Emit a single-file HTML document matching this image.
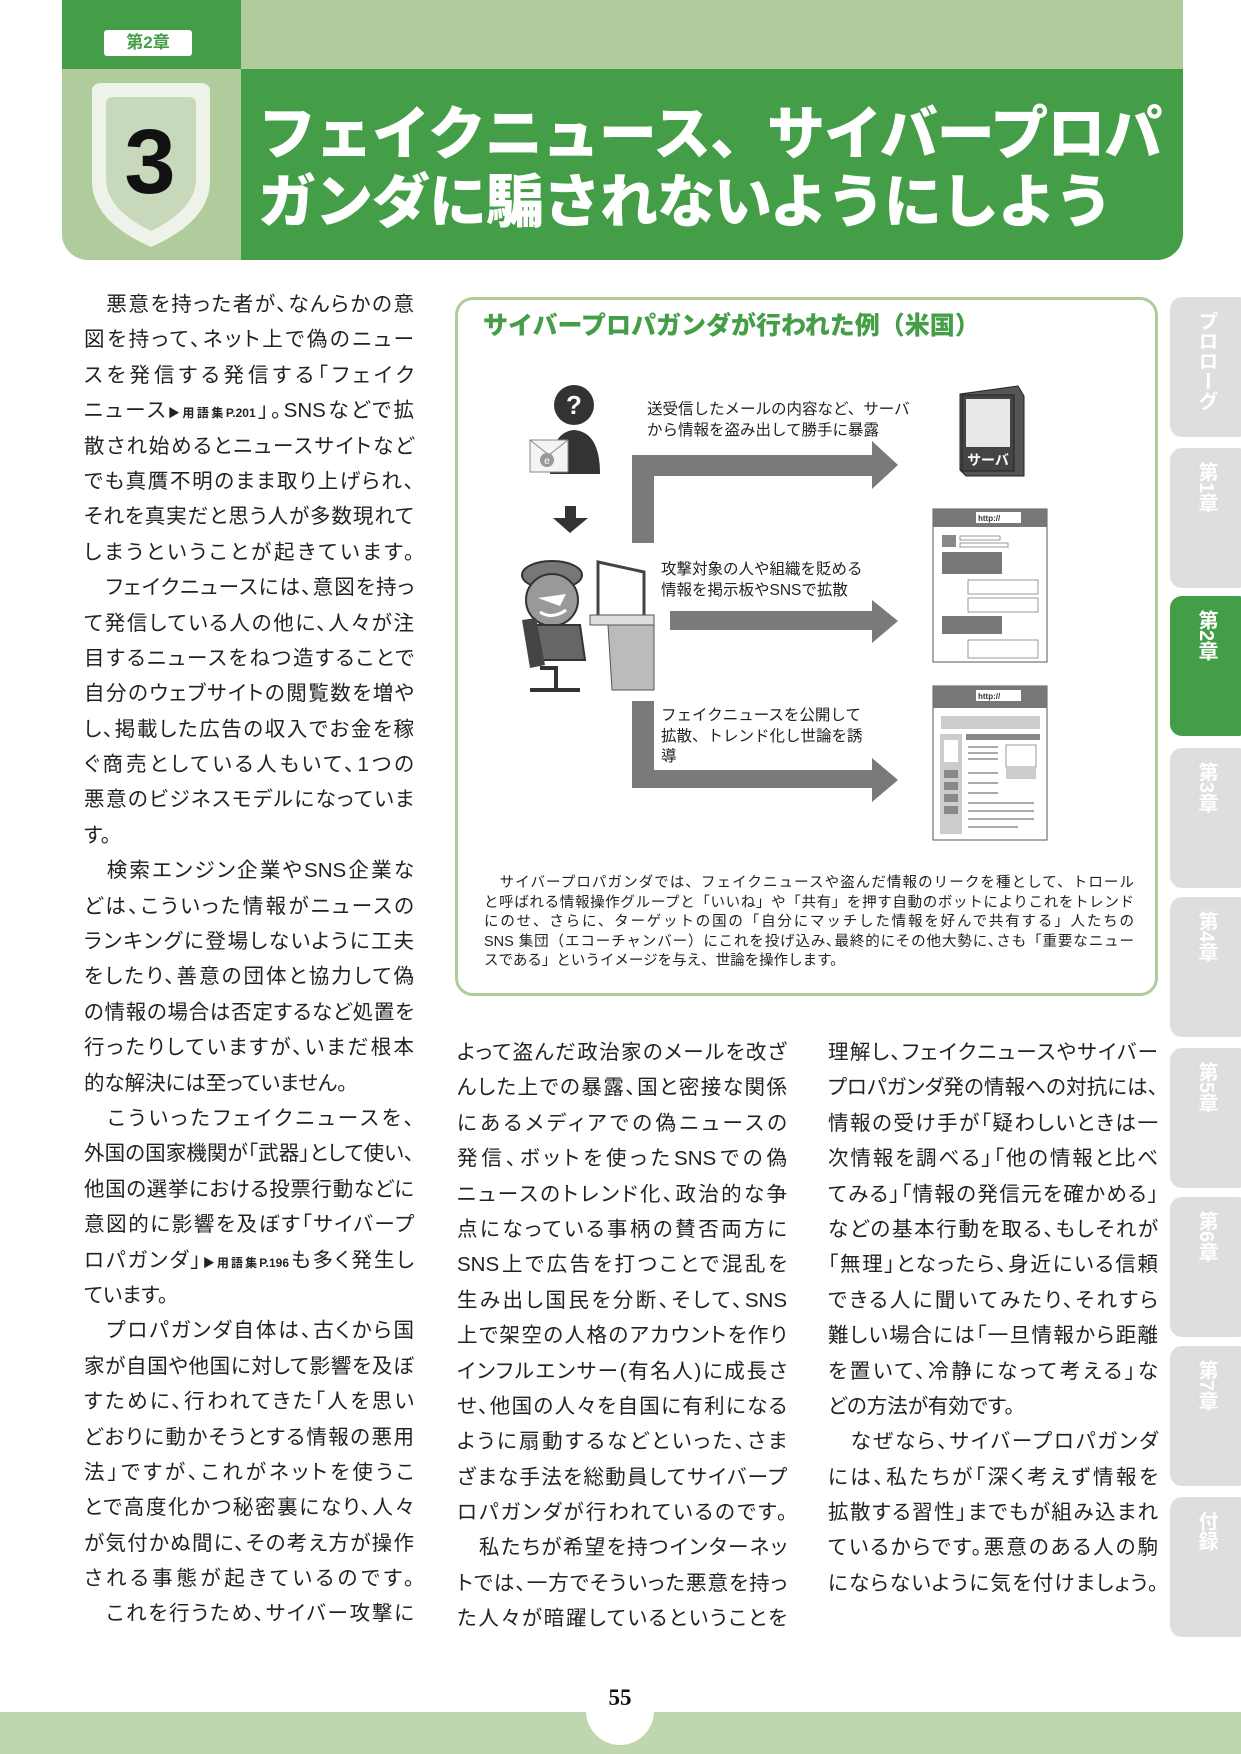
<!DOCTYPE html>
<html><head><meta charset="utf-8">
<style>
*{margin:0;padding:0;box-sizing:border-box}
body{width:1241px;height:1754px;position:relative;background:#fff;overflow:hidden;font-family:"Liberation Sans","Noto Sans CJK JP",sans-serif;color:#222}
.abs{position:absolute}
.col div{height:35.4px;line-height:35.4px;font-size:20.5px;text-align:justify;text-align-last:justify;white-space:nowrap;overflow:visible;font-feature-settings:"palt"}
.col div.l{text-align-last:left}
.ref{font-size:12px;font-weight:bold;letter-spacing:0}
.tab{position:absolute;left:1170px;width:80px;height:140px;background:#dedede;border-radius:12px;color:#fff;font-weight:bold;font-size:20px;line-height:24px;text-align:center;padding-top:14px;padding-right:8px;writing-mode:vertical-rl;display:flex;align-items:center;justify-content:flex-start}
.dt{font-size:15.5px;line-height:20.5px;color:#222}
.cap div{font-size:14.5px;line-height:19.6px;height:19.6px;text-align:justify;text-align-last:justify;white-space:nowrap}
</style></head><body>

<!-- header -->
<div class="abs" style="left:62px;top:0;width:1121px;height:69px;background:#b0cc9c"></div>
<div class="abs" style="left:62px;top:0;width:179px;height:69px;background:#449e48"></div>
<div class="abs" style="left:104px;top:30px;width:88px;height:26px;background:#fff;border-radius:3px;color:#449e48;font-weight:bold;font-size:17px;line-height:26px;text-align:center">第2章</div>
<div class="abs" style="left:62px;top:69px;width:200px;height:191px;background:#b0cc9c;border-radius:0 0 0 26px"></div>
<div class="abs" style="left:241px;top:69px;width:942px;height:191px;background:#449e48;border-radius:0 0 26px 0"></div>
<svg class="abs" style="left:84px;top:81px" width="134" height="168" viewBox="0 0 134 168">
<path d="M8 10 Q8 2 18 2 L116 2 Q126 2 126 10 L126 100 Q126 140 67 166 Q8 140 8 100 Z" fill="#eef3ea"/>
<path d="M22 22 Q22 16 30 16 L104 16 Q112 16 112 22 L112 98 Q112 128 67 150 Q22 128 22 98 Z" fill="#c8d9bb"/>
</svg>
<div class="abs" style="left:110px;top:112px;width:80px;text-align:center;font-size:92px;font-weight:900;line-height:100px;color:#111">3</div>
<div class="abs" style="left:258px;top:101px;color:#fff;font-weight:900;font-size:58px;line-height:68px;letter-spacing:-1px;white-space:nowrap">フェイクニュース、サイバープロパ<br>ガンダに騙されないようにしよう</div>

<!-- col1 -->
<div class="abs col" style="left:84px;top:287px;width:330px">
<div>　悪意を持った者が、なんらかの意</div>
<div>図を持って、ネット上で偽のニュー</div>
<div>スを発信する発信する「フェイク</div>
<div>ニュース<span class="ref">▶用語集P.201</span>」。SNSなどで拡</div>
<div>散され始めるとニュースサイトなど</div>
<div>でも真贋不明のまま取り上げられ、</div>
<div>それを真実だと思う人が多数現れて</div>
<div>しまうということが起きています。</div>
<div>　フェイクニュースには、意図を持っ</div>
<div>て発信している人の他に、人々が注</div>
<div>目するニュースをねつ造することで</div>
<div>自分のウェブサイトの閲覧数を増や</div>
<div>し、掲載した広告の収入でお金を稼</div>
<div>ぐ商売としている人もいて、1つの</div>
<div>悪意のビジネスモデルになっていま</div>
<div class="l">す。</div>
<div>　検索エンジン企業やSNS企業な</div>
<div>どは、こういった情報がニュースの</div>
<div>ランキングに登場しないように工夫</div>
<div>をしたり、善意の団体と協力して偽</div>
<div>の情報の場合は否定するなど処置を</div>
<div>行ったりしていますが、いまだ根本</div>
<div class="l">的な解決には至っていません。</div>
<div>　こういったフェイクニュースを、</div>
<div>外国の国家機関が「武器」として使い、</div>
<div>他国の選挙における投票行動などに</div>
<div>意図的に影響を及ぼす「サイバープ</div>
<div>ロパガンダ」<span class="ref">▶用語集P.196</span>も多く発生し</div>
<div class="l">ています。</div>
<div>　プロパガンダ自体は、古くから国</div>
<div>家が自国や他国に対して影響を及ぼ</div>
<div>すために、行われてきた「人を思い</div>
<div>どおりに動かそうとする情報の悪用</div>
<div>法」ですが、これがネットを使うこ</div>
<div>とで高度化かつ秘密裏になり、人々</div>
<div>が気付かぬ間に、その考え方が操作</div>
<div>される事態が起きているのです。</div>
<div>　これを行うため、サイバー攻撃に</div>
</div>

<!-- col2 -->
<div class="abs col" style="left:457px;top:1035px;width:330px">
<div>よって盗んだ政治家のメールを改ざ</div>
<div>んした上での暴露、国と密接な関係</div>
<div>にあるメディアでの偽ニュースの</div>
<div>発信、ボットを使ったSNSでの偽</div>
<div>ニュースのトレンド化、政治的な争</div>
<div>点になっている事柄の賛否両方に</div>
<div>SNS上で広告を打つことで混乱を</div>
<div>生み出し国民を分断、そして、SNS</div>
<div>上で架空の人格のアカウントを作り</div>
<div>インフルエンサー(有名人)に成長さ</div>
<div>せ、他国の人々を自国に有利になる</div>
<div>ように扇動するなどといった、さま</div>
<div>ざまな手法を総動員してサイバープ</div>
<div>ロパガンダが行われているのです。</div>
<div>　私たちが希望を持つインターネッ</div>
<div>トでは、一方でそういった悪意を持っ</div>
<div>た人々が暗躍しているということを</div>
</div>

<!-- col3 -->
<div class="abs col" style="left:828px;top:1035px;width:330px">
<div>理解し、フェイクニュースやサイバー</div>
<div>プロパガンダ発の情報への対抗には、</div>
<div>情報の受け手が「疑わしいときは一</div>
<div>次情報を調べる」「他の情報と比べ</div>
<div>てみる」「情報の発信元を確かめる」</div>
<div>などの基本行動を取る、もしそれが</div>
<div>「無理」となったら、身近にいる信頼</div>
<div>できる人に聞いてみたり、それすら</div>
<div>難しい場合には「一旦情報から距離</div>
<div>を置いて、冷静になって考える」な</div>
<div class="l">どの方法が有効です。</div>
<div>　なぜなら、サイバープロパガンダ</div>
<div>には、私たちが「深く考えず情報を</div>
<div>拡散する習性」までもが組み込まれ</div>
<div>ているからです。悪意のある人の駒</div>
<div>にならないように気を付けましょう。</div>
</div>

<!-- box -->
<div class="abs" style="left:455px;top:297px;width:703px;height:699px;border:3px solid #b0cc9c;border-radius:18px"></div>
<div class="abs" style="left:483px;top:309px;color:#449e48;font-weight:900;font-size:25px;line-height:34px;white-space:nowrap">サイバープロパガンダが行われた例（米国）</div>

<svg class="abs" style="left:455px;top:297px" width="703" height="560" viewBox="455 297 703 560">
<circle cx="574" cy="405" r="20" fill="#333"/>
<path d="M550 474 Q550 432 574 430 Q600 432 600 474 Z" fill="#333"/>
<text x="574" y="414" font-size="26" font-weight="bold" fill="#fff" text-anchor="middle" font-family="Liberation Sans">?</text>
<path d="M530 440 L568 440 L568 472 L530 472 Z" fill="#f4f4f4" stroke="#888"/>
<path d="M530 440 L549 455 L568 440" fill="none" stroke="#888"/>
<circle cx="547" cy="460" r="7" fill="#999"/><text x="547" y="464" font-size="10" fill="#fff" text-anchor="middle">e</text>
<path d="M565 506 L576 506 L576 518 L588 518 L570 533 L553 518 L565 518 Z" fill="#333"/>
<path d="M598 562 L644 572 L644 628 L598 620 Z" fill="#fff" stroke="#444" stroke-width="3"/>
<path d="M608 625 L654 625 L654 690 L612 690 Z" fill="#bbb" stroke="#555"/>
<path d="M590 615 L654 615 L654 625 L590 625 Z" fill="#ddd" stroke="#555"/>
<ellipse cx="552" cy="575" rx="30" ry="14" fill="#777" stroke="#333" stroke-width="2"/>
<circle cx="552" cy="600" r="26" fill="#999" stroke="#333" stroke-width="2"/>
<path d="M538 598 L566 594 L560 606 Z" fill="#fff"/>
<path d="M540 612 Q552 620 566 610" stroke="#fff" stroke-width="3" fill="none"/>
<path d="M532 625 L580 625 L585 660 L530 660 Z" fill="#666" stroke="#333" stroke-width="2"/>
<path d="M522 620 L536 618 L545 665 L530 668 Z" fill="#444"/>
<path d="M540 668 L556 668 L556 688 M530 690 L580 690" stroke="#333" stroke-width="4" fill="none"/>
<path d="M632 543 L632 455 L872 455 L872 441 L898 465 L872 489 L872 476 L654 476 L654 543 Z" fill="#7a7a7a"/>
<path d="M670 611 L872 611 L872 600 L898 621 L872 643 L872 630 L670 630 Z" fill="#7a7a7a"/>
<path d="M632 701 L654 701 L654 770 L872 770 L872 758 L898 780 L872 802 L872 788 L632 788 Z" fill="#7a7a7a"/>
<path d="M960 394 L1018 386 L1024 396 L1024 476 L966 476 L960 470 Z" fill="#555" stroke="#222"/>
<rect x="962" y="395" width="52" height="76" fill="#444" stroke="#222"/>
<rect x="966" y="399" width="44" height="48" fill="#e8e8e8"/>
<text x="988" y="465" font-size="14" font-weight="bold" fill="#fff" text-anchor="middle">サーバ</text>
<rect x="933" y="509" width="114" height="153" fill="#fff" stroke="#555"/>
<rect x="933" y="509" width="114" height="18" fill="#777"/>
<rect x="976" y="512" width="45" height="11" fill="#fff"/>
<text x="978" y="521" font-size="8" font-weight="bold" fill="#333">http://</text>
<rect x="942" y="535" width="14" height="12" fill="#888"/><rect x="960" y="536" width="40" height="4" fill="#fff" stroke="#999"/><rect x="960" y="543" width="48" height="4" fill="#fff" stroke="#999"/>
<rect x="942" y="552" width="60" height="22" fill="#777"/>
<rect x="968" y="580" width="70" height="14" fill="#fff" stroke="#999"/>
<rect x="968" y="598" width="70" height="14" fill="#fff" stroke="#999"/>
<rect x="942" y="616" width="60" height="18" fill="#777"/>
<rect x="968" y="640" width="70" height="18" fill="#fff" stroke="#999"/>
<rect x="933" y="686" width="114" height="154" fill="#fff" stroke="#555"/>
<rect x="933" y="686" width="114" height="22" fill="#777"/>
<rect x="976" y="690" width="45" height="11" fill="#fff"/>
<text x="978" y="699" font-size="8" font-weight="bold" fill="#333">http://</text>
<rect x="941" y="716" width="99" height="13" fill="#ccc"/>
<rect x="940" y="734" width="22" height="100" fill="#ccc"/>
<rect x="944" y="740" width="14" height="22" fill="#fff"/>
<rect x="944" y="770" width="14" height="8" fill="#888"/><rect x="944" y="782" width="14" height="8" fill="#888"/><rect x="944" y="794" width="14" height="8" fill="#888"/><rect x="944" y="806" width="14" height="8" fill="#888"/>
<rect x="966" y="734" width="74" height="6" fill="#888"/>
<rect x="1006" y="745" width="30" height="22" fill="#fff" stroke="#999"/>
<rect x="1006" y="767" width="30" height="12" fill="#ccc"/>
<g fill="#aaa"><rect x="968" y="746" width="30" height="2"/><rect x="968" y="752" width="30" height="2"/><rect x="968" y="758" width="30" height="2"/><rect x="968" y="772" width="30" height="2"/><rect x="968" y="782" width="30" height="2"/><rect x="968" y="792" width="30" height="2"/><rect x="968" y="802" width="66" height="2"/><rect x="968" y="810" width="66" height="2"/><rect x="968" y="818" width="66" height="2"/><rect x="968" y="826" width="50" height="2"/></g>
</svg>
<div class="abs dt" style="left:647px;top:400px;white-space:nowrap">送受信したメールの内容など、サーバ<br>から情報を盗み出して勝手に暴露</div>
<div class="abs dt" style="left:661px;top:560px;white-space:nowrap">攻撃対象の人や組織を貶める<br>情報を掲示板やSNSで拡散</div>
<div class="abs dt" style="left:661px;top:706px;white-space:nowrap">フェイクニュースを公開して<br>拡散、トレンド化し世論を誘<br>導</div>
<div class="abs cap" style="left:484px;top:874px;width:650px">
<div>　サイバープロパガンダでは、フェイクニュースや盗んだ情報のリークを種として、トロール</div>
<div>と呼ばれる情報操作グループと「いいね」や「共有」を押す自動のボットによりこれをトレンド</div>
<div>にのせ、さらに、ターゲットの国の「自分にマッチした情報を好んで共有する」人たちの</div>
<div>SNS 集団（エコーチャンバー）にこれを投げ込み､最終的にその他大勢に､さも「重要なニュー</div>
<div style="text-align-last:left">スである」というイメージを与え、世論を操作します。</div>
</div>

<!-- tabs -->
<div class="tab" style="top:297px">プロローグ</div>
<div class="tab" style="top:448px">第1章</div>
<div class="tab" style="top:596px;background:#449e48">第2章</div>
<div class="tab" style="top:748px">第3章</div>
<div class="tab" style="top:897px">第4章</div>
<div class="tab" style="top:1048px">第5章</div>
<div class="tab" style="top:1197px">第6章</div>
<div class="tab" style="top:1346px">第7章</div>
<div class="tab" style="top:1497px">付録</div>

<!-- footer -->
<div class="abs" style="left:0;top:1712px;width:1241px;height:42px;background:#c0d6ae"></div>
<div class="abs" style="left:586px;top:1677px;width:68px;height:68px;border-radius:50%;background:#fff"></div>
<div class="abs" style="left:580px;top:1685px;width:80px;text-align:center;font-family:'Liberation Serif',serif;font-weight:bold;font-size:23px;color:#111">55</div>
</body></html>
